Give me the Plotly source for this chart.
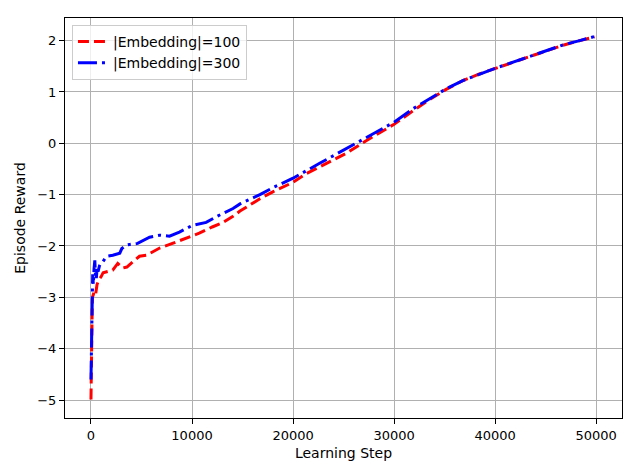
import plotly.graph_objects as go

# |Embedding|=100 (red, dashed)
steps_100 = [0, 10, 20, 30, 40, 60, 80, 100, 120, 150, 200, 300, 450, 600, 800,
             1000, 1200, 1600, 2150, 2650, 2850, 3150, 3550, 4130, 4800, 5500,
             6800, 8060, 9440, 10720, 12000, 13000, 14060, 14750, 16720, 18040,
             20000, 21320, 22630, 25260, 27240, 29040, 30000, 31850, 33500, 35150,
             36800, 38440, 40000, 41780, 43430, 45080, 46720, 48370, 49850]
reward_100 = [-4.99, -4.6, -4.3, -4.8, -3.9, -4.2, -3.5, -3.7, -3.2, -3.0, -2.95,
              -2.9, -2.95, -2.75, -2.65, -2.6, -2.52, -2.5, -2.47, -2.34, -2.37,
              -2.43, -2.41, -2.31, -2.2, -2.18, -2.04, -1.95, -1.85, -1.75, -1.63,
              -1.55, -1.42, -1.32, -1.08, -0.94, -0.76, -0.59, -0.46, -0.195, 0.05,
              0.26, 0.37, 0.63, 0.85, 1.05, 1.22, 1.35, 1.46, 1.576, 1.69, 1.80,
              1.91, 2.0, 2.07]

# |Embedding|=300 (blue, dash-dot)
steps_300 = [0, 15, 30, 45, 60, 80, 100, 130, 170, 230, 300, 380, 450, 520, 600,
             700, 850, 1000, 1200, 1540, 2160, 2650, 2850, 3050, 3540, 3830,
             4620, 5800, 6790, 7770, 8750, 10030, 11400, 12500, 14060, 14750,
             16720, 18040, 20000, 22630, 25260, 27240, 28550, 30000, 31850, 33500,
             35150, 36800, 38440, 40000, 41780, 43430, 45080, 46720, 48370, 49850]
reward_300 = [-4.6, -4.2, -4.4, -3.8, -3.5, -3.6, -3.1, -3.0, -2.55, -2.75, -2.45,
              -2.28, -2.6, -2.65, -2.45, -2.5, -2.38, -2.32, -2.3, -2.2, -2.18,
              -2.16, -2.14, -2.05, -1.98, -1.97, -1.95, -1.83, -1.79, -1.81, -1.73,
              -1.6, -1.54, -1.42, -1.27, -1.18, -1.0, -0.86, -0.68, -0.39, -0.10,
              0.12, 0.25, 0.41, 0.67, 0.86, 1.06, 1.22, 1.35, 1.46, 1.58, 1.69,
              1.80, 1.915, 2.0, 2.08]

x_ticks = [0, 10000, 20000, 30000, 40000, 50000]
y_ticks = [-5, -4, -3, -2, -1, 0, 1, 2]

FONT = "DejaVu Sans"

fig = go.Figure()
fig.add_trace(go.Scatter(x=steps_100, y=reward_100, mode="lines",
                         name="|Embedding|=100",
                         line=dict(color="red", width=3, dash="11px,5px")))
fig.add_trace(go.Scatter(x=steps_300, y=reward_300, mode="lines",
                         name="|Embedding|=300",
                         line=dict(color="blue", width=3, dash="19px,5px,3px,5px")))

axis_common = dict(showline=True, mirror=True, linecolor="black", linewidth=1,
                   showgrid=True, gridcolor="#b0b0b0", gridwidth=1,
                   ticks="outside", ticklen=5, tickcolor="black", tickwidth=1,
                   zeroline=False, automargin=False,
                   tickfont=dict(family=FONT, size=13, color="black"))

fig.update_xaxes(range=[-2572, 52560], tickvals=x_ticks,
                 ticktext=[str(v) for v in x_ticks],
                 title=dict(text="Learning Step", font=dict(family=FONT, size=14, color="black"),
                            standoff=6),
                 **axis_common)
fig.update_yaxes(range=[-5.35, 2.44], tickvals=y_ticks,
                 ticktext=[str(v).replace("-", "\u2212") for v in y_ticks],
                 title=dict(text="Episode Reward", font=dict(family=FONT, size=14, color="black"),
                            standoff=8),
                 **axis_common)

# page body has an 8px margin, so the figure is drawn at (8, 8)
fig.update_layout(
    width=632, height=468,
    margin=dict(l=57, r=18, t=10, b=58, autoexpand=False),
    paper_bgcolor="white", plot_bgcolor="white",
    font=dict(family=FONT, size=14, color="black"),
    showlegend=True,
    legend=dict(x=0.0125, y=0.9825, xanchor="left", yanchor="top",
                bgcolor="rgba(255,255,255,0.8)", bordercolor="#cccccc", borderwidth=1,
                font=dict(family=FONT, size=14, color="black"),
                tracegroupgap=0, itemwidth=30),
)

fig.write_html("out.html")
